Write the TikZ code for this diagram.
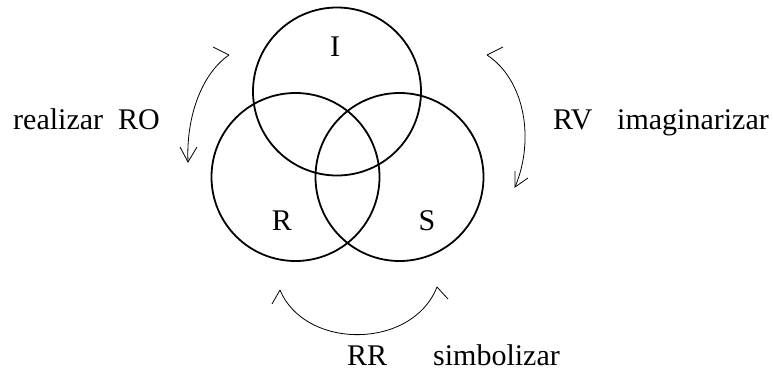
\documentclass[tikz,border=0pt]{standalone}
\usepackage{fontspec}
\setmainfont{Liberation Serif}
\begin{document}
\begin{tikzpicture}[x=1pt,y=-1pt,
  ring/.style={circle,draw,line width=1.8pt,minimum size=168pt,inner sep=0pt},
  lbl/.style={font=\fontsize{30}{30}\selectfont,inner sep=0pt,anchor=base west},
  letter/.style={font=\fontsize{30}{30}\selectfont,inner sep=0pt},
  curv/.style={line width=0.8pt},
  tip/.style={line width=0.8pt,line join=miter}]
\useasboundingbox (0,0) rectangle (773,373);
% circles
\node[ring] (I) at (337,91.5) {};
\node[ring] (R) at (295.5,177) {};
\node[ring] (S) at (399.5,177) {};
% letters
\node[letter] (tI) at (335,47) {I};
\node[letter] (tR) at (282,221) {R};
\node[letter] (tS) at (427,221) {S};
% side labels
\node[lbl] (real) at (13,129) {realizar};
\node[lbl] (ro) at (118,129) {RO};
\node[lbl] (rv) at (553,129) {RV};
\node[lbl] (imag) at (617,129) {imaginarizar};
\node[lbl] (rr) at (347,365) {RR};
\node[lbl] (simb) at (433,365) {simbolizar};
% left arrow
\coordinate (la) at (229,55);
\coordinate (lt) at (213,47);
\coordinate (lb) at (188,162);
\coordinate (lb1) at (180,147);
\coordinate (lb2) at (197,147);
\draw[tip] (lt) -- (la);
\draw[curv] (la) .. controls (200,75) and (186,120) .. (lb);
\draw[tip] (lb1) -- (lb) -- (lb2);
% right arrow
\coordinate (ra) at (487,55);
\coordinate (rt) at (503,47);
\coordinate (rb) at (515,187);
\coordinate (rb1) at (515,171);
\coordinate (rb2) at (528,178);
\draw[tip] (rt) -- (ra);
\draw[curv] (ra) .. controls (525,80) and (535,140) .. (rb);
\draw[tip] (rb1) -- (rb) -- (rb2);
% bottom arrow
\coordinate (ba) at (280,290);
\coordinate (ba1) at (272,304);
\coordinate (bb) at (437,287);
\coordinate (bb1) at (448,299);
\draw[tip] (ba1) -- (ba);
\draw[curv] (ba) .. controls (305,350) and (412,350) .. (bb);
\draw[tip] (bb) -- (bb1);
\end{tikzpicture}
\end{document}
